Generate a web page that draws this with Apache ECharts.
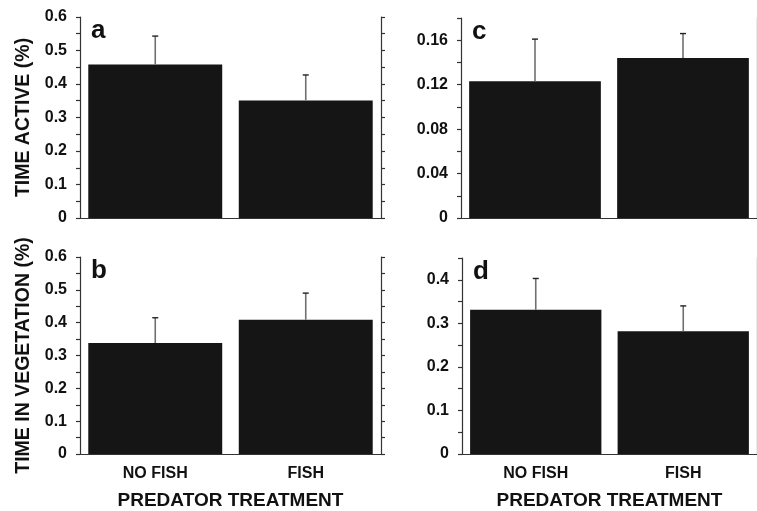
<!DOCTYPE html>
<html>
<head>
<meta charset="utf-8">
<script src="https://cdn.jsdelivr.net/npm/echarts@6/dist/echarts.min.js"></script>
<style>
  html, body { margin: 0; background: #fff; }
  #chart { width: 757px; height: 511px; }
</style>
</head>
<body>
<div id="chart"></div>
<script>
// categories on every x axis
const categories = ["NO FISH", "FISH"];

// panel a: time active
const activeMeanA = [0.458, 0.351];
const activeSeA = [0.085, 0.076];
// panel b: time in vegetation
const vegMeanB = [0.338, 0.409];
const vegSeB = [0.077, 0.081];
// panel c: time active
const activeMeanC = [0.123, 0.144];
const activeSeC = [0.038, 0.022];
// panel d: time in vegetation
const vegMeanD = [0.331, 0.282];
const vegSeD = [0.072, 0.058];

// y ranges: [max, labelled step, minor step]
const rangeA = [0.6, 0.1, 0.05];
const rangeB = [0.6, 0.1, 0.05];
const rangeC = [0.18, 0.04, 0.02];
const rangeD = [0.45, 0.1, 0.05];

const FONT = "'Liberation Sans', Arial, Helvetica, sans-serif";
const AXIS_COLOR = "#333";
const BAR_COLOR = "#151515";

var chart = echarts.init(document.getElementById("chart"));

function renderErr(params, api) {
  const base = api.coord([api.value(0), api.value(1)]);
  const top = api.coord([api.value(0), api.value(2)]);
  return {
    type: "group",
    children: [
      {
        type: "line",
        shape: { x1: base[0], y1: base[1], x2: top[0], y2: top[1] },
        style: { stroke: "#707070", lineWidth: 1.6 },
      },
      {
        type: "line",
        shape: { x1: top[0] - 3, y1: top[1], x2: top[0] + 3, y2: top[1] },
        style: { stroke: "#222", lineWidth: 1.4 },
      },
    ],
  };
}

let grids = [];
let xAxes = [];
let yAxes = [];
let series = [];
let graphics = [];

function addPanel(pos, letter, mean, se, range, yName, showX) {
  const g = grids.length;
  grids.push({ left: pos[0], top: pos[1], width: pos[2], height: pos[3] });
  const lineStyle = { color: AXIS_COLOR, width: 1.2 };
  // bottom category axis
  xAxes.push({
    gridIndex: g,
    type: "category",
    data: categories,
    position: "bottom",
    axisLine: { lineStyle: lineStyle },
    axisTick: { alignWithLabel: true, length: 4, lineStyle: lineStyle },
    axisLabel: {
      show: showX,
      margin: 12,
      color: "#111",
      fontFamily: FONT,
      fontWeight: "bold",
      fontSize: 16,
    },
    name: showX ? "PREDATOR TREATMENT" : "",
    nameLocation: "middle",
    nameGap: 37,
    nameTextStyle: { color: "#111", fontFamily: FONT, fontWeight: "bold", fontSize: 19 },
  });
  // top mirror axis
  xAxes.push({
    gridIndex: g,
    type: "category",
    data: categories,
    position: "top",
    axisLine: { lineStyle: lineStyle },
    axisTick: { alignWithLabel: true, length: 3, lineStyle: lineStyle },
    axisLabel: { show: false },
  });
  const step = range[1];
  const yBase = {
    gridIndex: g,
    type: "value",
    min: 0,
    max: range[0],
    interval: range[2],
    splitLine: { show: false },
    axisLine: { show: true, lineStyle: lineStyle },
    axisTick: { show: true, length: 4, lineStyle: lineStyle },
  };
  yAxes.push(
    Object.assign({}, yBase, {
      position: "left",
      axisLabel: {
        margin: 13,
        color: "#111",
        fontFamily: FONT,
        fontWeight: "bold",
        fontSize: 16,
        formatter: function (v) {
          if (Math.round(v * 1e4) % Math.round(step * 1e4) !== 0) return "";
          return v === 0 ? "0" : String(+v.toFixed(2));
        },
      },
      name: yName,
      nameLocation: "middle",
      nameGap: 46,
      nameTextStyle: { color: "#111", fontFamily: FONT, fontWeight: "bold", fontSize: 19.5 },
    })
  );
  yAxes.push(
    Object.assign({}, yBase, {
      position: "right",
      axisLabel: { show: false },
    })
  );
  series.push({
    type: "bar",
    xAxisIndex: 2 * g,
    yAxisIndex: 2 * g,
    barWidth: "89%",
    itemStyle: { color: BAR_COLOR },
    data: mean,
    z: 2,
  });
  series.push({
    type: "custom",
    xAxisIndex: 2 * g,
    yAxisIndex: 2 * g,
    renderItem: renderErr,
    encode: { x: 0, y: [1, 2] },
    data: mean.map(function (m, i) {
      return [i, m, m + se[i]];
    }),
    z: 3,
  });
  graphics.push({
    type: "text",
    left: pos[0] + 11,
    top: pos[1] + 1,
    style: {
      text: letter,
      fill: "#111",
      font: "bold 26px " + FONT,
    },
  });
}

addPanel([80, 17, 301, 201], "a", activeMeanA, activeSeA, rangeA, "TIME ACTIVE (%)", false);
addPanel([80, 257, 301, 201], "b", vegMeanB, vegSeB, rangeB, "TIME IN VEGETATION (%)", true);
addPanel([461, 18, 301, 200], "c", activeMeanC, activeSeC, rangeC, "", false);
addPanel([462, 258, 301, 200], "d", vegMeanD, vegSeD, rangeD, "", true);

chart.setOption({
  backgroundColor: "#fff",
  animation: false,
  grid: grids,
  xAxis: xAxes,
  yAxis: yAxes,
  series: series,
  graphic: graphics,
});
</script>
</body>
</html>
